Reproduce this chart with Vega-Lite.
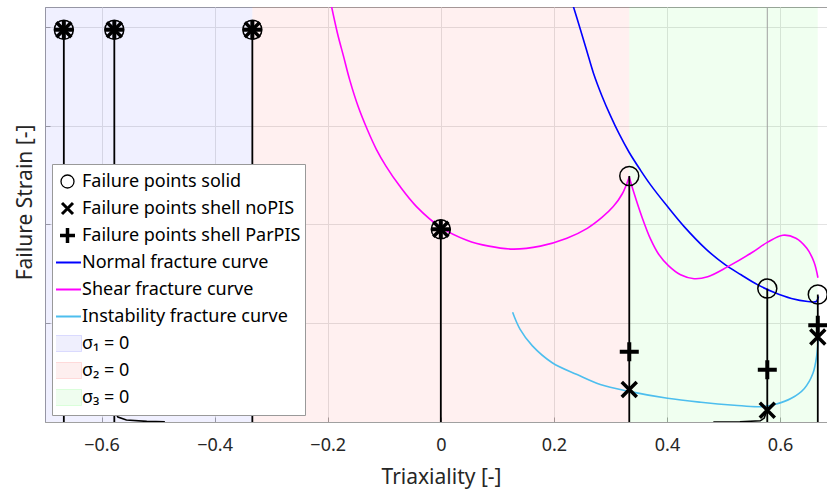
{
  "$schema": "https://vega.github.io/schema/vega-lite/v6.json",
  "width": 782,
  "height": 415,
  "autosize": {"type": "none"},
  "padding": {"left": 45, "top": 7, "right": 0, "bottom": 74},
  "background": "white",
  "config": {
    "view": {"stroke": "#a0a0a0", "strokeWidth": 1},
    "axis": {"grid": true, "gridColor": "#e3e3e3", "domainColor": "#a0a0a0", "tickColor": "#a0a0a0", "tickSize": -5,
      "labelFont": "Noto Sans", "labelFontSize": 18, "labelColor": "#262626",
      "titleFont": "Noto Sans", "titleFontSize": 21, "titleFontWeight": "normal", "titleColor": "#262626"},
    "axisX": {"tickCount": 7, "labelPadding": 19, "labelFlush": false, "labelOverlap": false,
      "titleX": 396, "titleY": 55, "titleBaseline": "middle", "titleAlign": "center"},
    "axisY": {"tickCount": 5, "labels": false,
      "titleX": -20, "titleY": 195, "titleAngle": -90, "titleBaseline": "middle", "titleAlign": "center"}
  },
  "data": {"values": [
    {"k": "region", "s": "σ₁ = 0", "x": -0.75, "x2": -0.3333},
    {"k": "region", "s": "σ₂ = 0", "x": -0.3333, "x2": 0.3333},
    {"k": "region", "s": "σ₃ = 0", "x": 0.3333, "x2": 0.6667},

    {"k": "curve", "s": "Normal fracture curve", "p": "a", "x": 0.232, "y": 4.25},
    {"k": "curve", "s": "Normal fracture curve", "p": "a", "x": 0.247, "y": 3.97},
    {"k": "curve", "s": "Normal fracture curve", "p": "a", "x": 0.259, "y": 3.74},
    {"k": "curve", "s": "Normal fracture curve", "p": "a", "x": 0.270, "y": 3.53},
    {"k": "curve", "s": "Normal fracture curve", "p": "a", "x": 0.285, "y": 3.30},
    {"k": "curve", "s": "Normal fracture curve", "p": "a", "x": 0.300, "y": 3.10},
    {"k": "curve", "s": "Normal fracture curve", "p": "a", "x": 0.315, "y": 2.92},
    {"k": "curve", "s": "Normal fracture curve", "p": "a", "x": 0.333, "y": 2.73},
    {"k": "curve", "s": "Normal fracture curve", "p": "a", "x": 0.353, "y": 2.55},
    {"k": "curve", "s": "Normal fracture curve", "p": "a", "x": 0.371, "y": 2.40},
    {"k": "curve", "s": "Normal fracture curve", "p": "a", "x": 0.401, "y": 2.18},
    {"k": "curve", "s": "Normal fracture curve", "p": "a", "x": 0.430, "y": 1.98},
    {"k": "curve", "s": "Normal fracture curve", "p": "a", "x": 0.469, "y": 1.75},
    {"k": "curve", "s": "Normal fracture curve", "p": "a", "x": 0.501, "y": 1.60},
    {"k": "curve", "s": "Normal fracture curve", "p": "a", "x": 0.531, "y": 1.49},
    {"k": "curve", "s": "Normal fracture curve", "p": "a", "x": 0.560, "y": 1.39},
    {"k": "curve", "s": "Normal fracture curve", "p": "a", "x": 0.590, "y": 1.31},
    {"k": "curve", "s": "Normal fracture curve", "p": "a", "x": 0.620, "y": 1.25},
    {"k": "curve", "s": "Normal fracture curve", "p": "a", "x": 0.649, "y": 1.22},
    {"k": "curve", "s": "Normal fracture curve", "p": "a", "x": 0.664, "y": 1.22},
    {"k": "curve", "s": "Normal fracture curve", "p": "a", "x": 0.668, "y": 1.27},

    {"k": "curve", "s": "Shear fracture curve", "p": "a", "x": -0.196, "y": 4.28},
    {"k": "curve", "s": "Shear fracture curve", "p": "a", "x": -0.183, "y": 3.94},
    {"k": "curve", "s": "Shear fracture curve", "p": "a", "x": -0.172, "y": 3.70},
    {"k": "curve", "s": "Shear fracture curve", "p": "a", "x": -0.161, "y": 3.46},
    {"k": "curve", "s": "Shear fracture curve", "p": "a", "x": -0.146, "y": 3.19},
    {"k": "curve", "s": "Shear fracture curve", "p": "a", "x": -0.130, "y": 2.96},
    {"k": "curve", "s": "Shear fracture curve", "p": "a", "x": -0.114, "y": 2.76},
    {"k": "curve", "s": "Shear fracture curve", "p": "a", "x": -0.097, "y": 2.59},
    {"k": "curve", "s": "Shear fracture curve", "p": "a", "x": -0.073, "y": 2.39},
    {"k": "curve", "s": "Shear fracture curve", "p": "a", "x": -0.043, "y": 2.18},
    {"k": "curve", "s": "Shear fracture curve", "p": "a", "x": 0.0, "y": 1.97},
    {"k": "curve", "s": "Shear fracture curve", "p": "a", "x": 0.046, "y": 1.84},
    {"k": "curve", "s": "Shear fracture curve", "p": "a", "x": 0.085, "y": 1.78},
    {"k": "curve", "s": "Shear fracture curve", "p": "a", "x": 0.128, "y": 1.75},
    {"k": "curve", "s": "Shear fracture curve", "p": "a", "x": 0.176, "y": 1.78},
    {"k": "curve", "s": "Shear fracture curve", "p": "a", "x": 0.223, "y": 1.86},
    {"k": "curve", "s": "Shear fracture curve", "p": "a", "x": 0.259, "y": 1.96},
    {"k": "curve", "s": "Shear fracture curve", "p": "a", "x": 0.285, "y": 2.07},
    {"k": "curve", "s": "Shear fracture curve", "p": "a", "x": 0.305, "y": 2.18},
    {"k": "curve", "s": "Shear fracture curve", "p": "a", "x": 0.321, "y": 2.31},
    {"k": "curve", "s": "Shear fracture curve", "p": "a", "x": 0.3333, "y": 2.48},
    {"k": "curve", "s": "Shear fracture curve", "p": "b", "x": 0.3333, "y": 2.48},
    {"k": "curve", "s": "Shear fracture curve", "p": "b", "x": 0.341, "y": 2.33},
    {"k": "curve", "s": "Shear fracture curve", "p": "b", "x": 0.356, "y": 2.07},
    {"k": "curve", "s": "Shear fracture curve", "p": "b", "x": 0.371, "y": 1.85},
    {"k": "curve", "s": "Shear fracture curve", "p": "b", "x": 0.385, "y": 1.70},
    {"k": "curve", "s": "Shear fracture curve", "p": "b", "x": 0.403, "y": 1.58},
    {"k": "curve", "s": "Shear fracture curve", "p": "b", "x": 0.424, "y": 1.49},
    {"k": "curve", "s": "Shear fracture curve", "p": "b", "x": 0.448, "y": 1.45},
    {"k": "curve", "s": "Shear fracture curve", "p": "b", "x": 0.472, "y": 1.47},
    {"k": "curve", "s": "Shear fracture curve", "p": "b", "x": 0.507, "y": 1.57},
    {"k": "curve", "s": "Shear fracture curve", "p": "b", "x": 0.549, "y": 1.71},
    {"k": "curve", "s": "Shear fracture curve", "p": "b", "x": 0.578, "y": 1.82},
    {"k": "curve", "s": "Shear fracture curve", "p": "b", "x": 0.605, "y": 1.89},
    {"k": "curve", "s": "Shear fracture curve", "p": "b", "x": 0.628, "y": 1.86},
    {"k": "curve", "s": "Shear fracture curve", "p": "b", "x": 0.647, "y": 1.76},
    {"k": "curve", "s": "Shear fracture curve", "p": "b", "x": 0.660, "y": 1.62},
    {"k": "curve", "s": "Shear fracture curve", "p": "b", "x": 0.667, "y": 1.46},

    {"k": "curve", "s": "Instability fracture curve", "p": "a", "x": 0.127, "y": 1.11},
    {"k": "curve", "s": "Instability fracture curve", "p": "a", "x": 0.140, "y": 0.94},
    {"k": "curve", "s": "Instability fracture curve", "p": "a", "x": 0.162, "y": 0.77},
    {"k": "curve", "s": "Instability fracture curve", "p": "a", "x": 0.197, "y": 0.60},
    {"k": "curve", "s": "Instability fracture curve", "p": "a", "x": 0.241, "y": 0.48},
    {"k": "curve", "s": "Instability fracture curve", "p": "a", "x": 0.282, "y": 0.38},
    {"k": "curve", "s": "Instability fracture curve", "p": "a", "x": 0.333, "y": 0.31},
    {"k": "curve", "s": "Instability fracture curve", "p": "a", "x": 0.401, "y": 0.24},
    {"k": "curve", "s": "Instability fracture curve", "p": "a", "x": 0.460, "y": 0.20},
    {"k": "curve", "s": "Instability fracture curve", "p": "a", "x": 0.519, "y": 0.17},
    {"k": "curve", "s": "Instability fracture curve", "p": "a", "x": 0.565, "y": 0.155},
    {"k": "curve", "s": "Instability fracture curve", "p": "a", "x": 0.592, "y": 0.18},
    {"k": "curve", "s": "Instability fracture curve", "p": "a", "x": 0.620, "y": 0.24},
    {"k": "curve", "s": "Instability fracture curve", "p": "a", "x": 0.643, "y": 0.34},
    {"k": "curve", "s": "Instability fracture curve", "p": "a", "x": 0.658, "y": 0.49},
    {"k": "curve", "s": "Instability fracture curve", "p": "a", "x": 0.665, "y": 0.68},
    {"k": "curve", "s": "Instability fracture curve", "p": "a", "x": 0.668, "y": 0.90},

    {"k": "black", "g": "a", "x": -0.582, "y": 0.6},
    {"k": "black", "g": "a", "x": -0.580, "y": 0.14},
    {"k": "black", "g": "a", "x": -0.571, "y": 0.05},
    {"k": "black", "g": "a", "x": -0.556, "y": 0.02},
    {"k": "black", "g": "a", "x": -0.52, "y": 0.006},
    {"k": "black", "g": "a", "x": -0.488, "y": 0.002},
    {"k": "black", "g": "b", "x": 0.482, "y": 0.0},
    {"k": "black", "g": "b", "x": 0.529, "y": 0.003},
    {"k": "black", "g": "b", "x": 0.565, "y": 0.012},
    {"k": "black", "g": "b", "x": 0.572, "y": 0.04},
    {"k": "black", "g": "b", "x": 0.575, "y": 0.09},
    {"k": "black", "g": "b", "x": 0.577, "y": 0.14},

    {"k": "stem", "x": -0.6667, "y": 3.97},
    {"k": "stem", "x": -0.5774, "y": 3.97},
    {"k": "stem", "x": -0.3333, "y": 3.97},
    {"k": "stem", "x": 0.0, "y": 1.95},
    {"k": "stem", "x": 0.3333, "y": 2.49},
    {"k": "stem", "x": 0.5774, "y": 1.35},
    {"k": "stem", "x": 0.6667, "y": 1.29},

    {"k": "pt", "s": "Failure points solid", "x": -0.6667, "y": 3.97},
    {"k": "pt", "s": "Failure points solid", "x": -0.5774, "y": 3.97},
    {"k": "pt", "s": "Failure points solid", "x": -0.3333, "y": 3.97},
    {"k": "pt", "s": "Failure points solid", "x": 0.0, "y": 1.95},
    {"k": "pt", "s": "Failure points solid", "x": 0.3333, "y": 2.49},
    {"k": "pt", "s": "Failure points solid", "x": 0.5774, "y": 1.35},
    {"k": "pt", "s": "Failure points solid", "x": 0.6667, "y": 1.29},
    {"k": "pt", "s": "Failure points shell noPIS", "x": -0.6667, "y": 3.97},
    {"k": "pt", "s": "Failure points shell noPIS", "x": -0.5774, "y": 3.97},
    {"k": "pt", "s": "Failure points shell noPIS", "x": -0.3333, "y": 3.97},
    {"k": "pt", "s": "Failure points shell noPIS", "x": 0.0, "y": 1.95},
    {"k": "pt", "s": "Failure points shell noPIS", "x": 0.3333, "y": 0.33},
    {"k": "pt", "s": "Failure points shell noPIS", "x": 0.5774, "y": 0.12},
    {"k": "pt", "s": "Failure points shell noPIS", "x": 0.6667, "y": 0.86},
    {"k": "pt", "s": "Failure points shell ParPIS", "x": -0.6667, "y": 3.97},
    {"k": "pt", "s": "Failure points shell ParPIS", "x": -0.5774, "y": 3.97},
    {"k": "pt", "s": "Failure points shell ParPIS", "x": -0.3333, "y": 3.97},
    {"k": "pt", "s": "Failure points shell ParPIS", "x": 0.0, "y": 1.95},
    {"k": "pt", "s": "Failure points shell ParPIS", "x": 0.3333, "y": 0.71},
    {"k": "pt", "s": "Failure points shell ParPIS", "x": 0.5774, "y": 0.53},
    {"k": "pt", "s": "Failure points shell ParPIS", "x": 0.6667, "y": 0.98}
  ]},
  "layer": [
    {
      "transform": [{"filter": "datum.k == 'region'"}],
      "mark": {"type": "rect", "fillOpacity": 0.06, "clip": true},
      "encoding": {
        "x": {"field": "x", "type": "quantitative", "title": "Triaxiality [-]", "axis": {"format": "~g"},
          "scale": {"domain": [-0.7, 0.683], "nice": false, "zero": false}},
        "x2": {"field": "x2"},
        "fill": {"field": "s", "type": "nominal",
          "scale": {"domain": ["σ₁ = 0", "σ₂ = 0", "σ₃ = 0"], "range": ["#0000ff", "#ff0000", "#00ff00"]},
          "legend": null}
      }
    },
    {
      "data": {"values": [{"x": 0.5774}]},
      "mark": {"type": "rule", "color": "#a0a0a0", "strokeWidth": 1},
      "encoding": {
        "x": {"field": "x", "type": "quantitative", "title": "Triaxiality [-]", "axis": {"format": "~g"}, "scale": {"domain": [-0.7, 0.683], "nice": false, "zero": false}}
      }
    },
    {
      "transform": [{"filter": "datum.k == 'curve'"}],
      "mark": {"type": "line", "strokeWidth": 1.6, "clip": true, "interpolate": "catmull-rom"},
      "encoding": {
        "x": {"field": "x", "type": "quantitative", "title": "Triaxiality [-]", "axis": {"format": "~g"}, "scale": {"domain": [-0.7, 0.683], "nice": false, "zero": false}},
        "y": {"field": "y", "type": "quantitative", "title": "Failure Strain [-]", "scale": {"domain": [0, 4.2], "nice": false, "zero": false}},
        "detail": {"field": "p", "type": "nominal"},
        "color": {"field": "s", "type": "nominal",
          "scale": {"domain": ["Failure points solid", "Failure points shell noPIS", "Failure points shell ParPIS", "Normal fracture curve", "Shear fracture curve", "Instability fracture curve", "σ₁ = 0", "σ₂ = 0", "σ₃ = 0"],
            "range": ["#000000", "#000000", "#000000", "#0000ff", "#ff00ff", "#4dbeee", "#0000ff", "#ff0000", "#00ff00"]},
          "legend": {"title": null, "orient": "bottom-left", "offset": 7, "fillColor": "white", "strokeColor": "#999999",
            "padding": 4, "labelFont": "Noto Sans", "labelFontSize": 18, "labelColor": "black", "labelLimit": 400,
            "clipHeight": 27, "rowPadding": 0, "symbolOffset": -3, "labelOffset": 0, "symbolSize": 784,
            "encode": {"symbols": {"update": {
              "shape": {"signal": "['circle','M-1,-1L1,1M1,-1L-1,1','M-1,0H1M0,-1V1','M-1,0H1','M-1,0H1','M-1,0H1','M-1,-0.57H1V0.57H-1Z','M-1,-0.57H1V0.57H-1Z','M-1,-0.57H1V0.57H-1Z'][indexof(['Failure points solid','Failure points shell noPIS','Failure points shell ParPIS','Normal fracture curve','Shear fracture curve','Instability fracture curve','σ₁ = 0','σ₂ = 0','σ₃ = 0'], isString(datum) ? datum : datum.value)]"},
              "size": {"signal": "[169,121,225,729,729,729,784,784,784][indexof(['Failure points solid','Failure points shell noPIS','Failure points shell ParPIS','Normal fracture curve','Shear fracture curve','Instability fracture curve','σ₁ = 0','σ₂ = 0','σ₃ = 0'], isString(datum) ? datum : datum.value)]"},
              "strokeWidth": {"signal": "[1.3,3,3.5,2,2,2,1,1,1][indexof(['Failure points solid','Failure points shell noPIS','Failure points shell ParPIS','Normal fracture curve','Shear fracture curve','Instability fracture curve','σ₁ = 0','σ₂ = 0','σ₃ = 0'], isString(datum) ? datum : datum.value)]"},
              "strokeOpacity": {"signal": "[1,1,1,1,1,1,0.12,0.12,0.12][indexof(['Failure points solid','Failure points shell noPIS','Failure points shell ParPIS','Normal fracture curve','Shear fracture curve','Instability fracture curve','σ₁ = 0','σ₂ = 0','σ₃ = 0'], isString(datum) ? datum : datum.value)]"},
              "fill": {"signal": "['transparent','transparent','transparent','transparent','transparent','transparent','#efeffd','#fdefef','#effdef'][indexof(['Failure points solid','Failure points shell noPIS','Failure points shell ParPIS','Normal fracture curve','Shear fracture curve','Instability fracture curve','σ₁ = 0','σ₂ = 0','σ₃ = 0'], isString(datum) ? datum : datum.value)]"},
              "opacity": {"value": 1},
              "fillOpacity": {"value": 1}
            }}}}}
      }
    },
    {
      "transform": [{"filter": "datum.k == 'black'"}],
      "mark": {"type": "line", "strokeWidth": 1.6, "color": "black", "clip": true},
      "encoding": {
        "x": {"field": "x", "type": "quantitative", "title": "Triaxiality [-]", "axis": {"format": "~g"}, "scale": {"domain": [-0.7, 0.683], "nice": false, "zero": false}},
        "y": {"field": "y", "type": "quantitative", "title": "Failure Strain [-]", "scale": {"domain": [0, 4.2], "nice": false, "zero": false}},
        "detail": {"field": "g", "type": "nominal"}
      }
    },
    {
      "transform": [{"filter": "datum.k == 'stem'"}],
      "mark": {"type": "rule", "strokeWidth": 1.8, "color": "black"},
      "encoding": {
        "x": {"field": "x", "type": "quantitative", "title": "Triaxiality [-]", "axis": {"format": "~g"}, "scale": {"domain": [-0.7, 0.683], "nice": false, "zero": false}},
        "y": {"field": "y", "type": "quantitative", "title": "Failure Strain [-]", "scale": {"domain": [0, 4.2], "nice": false, "zero": false}},
        "y2": {"datum": 0}
      }
    },
    {
      "transform": [{"filter": "datum.s == 'Failure points solid'"}],
      "mark": {"type": "point", "shape": "circle", "size": 361, "strokeWidth": 1.5, "filled": false, "opacity": 1},
      "encoding": {
        "x": {"field": "x", "type": "quantitative", "title": "Triaxiality [-]", "axis": {"format": "~g"}, "scale": {"domain": [-0.7, 0.683], "nice": false, "zero": false}},
        "y": {"field": "y", "type": "quantitative", "title": "Failure Strain [-]", "scale": {"domain": [0, 4.2], "nice": false, "zero": false}},
        "color": {"field": "s", "type": "nominal",
          "scale": {"domain": ["Failure points solid", "Failure points shell noPIS", "Failure points shell ParPIS", "Normal fracture curve", "Shear fracture curve", "Instability fracture curve", "σ₁ = 0", "σ₂ = 0", "σ₃ = 0"],
            "range": ["#000000", "#000000", "#000000", "#0000ff", "#ff00ff", "#4dbeee", "#0000ff", "#ff0000", "#00ff00"]},
          "legend": null}
      }
    },
    {
      "transform": [{"filter": "datum.s == 'Failure points shell noPIS'"}],
      "mark": {"type": "point", "shape": "M-1,-1L1,1M1,-1L-1,1", "size": 225, "strokeWidth": 3.5, "filled": false, "opacity": 1},
      "encoding": {
        "x": {"field": "x", "type": "quantitative", "title": "Triaxiality [-]", "axis": {"format": "~g"}, "scale": {"domain": [-0.7, 0.683], "nice": false, "zero": false}},
        "y": {"field": "y", "type": "quantitative", "title": "Failure Strain [-]", "scale": {"domain": [0, 4.2], "nice": false, "zero": false}},
        "color": {"field": "s", "type": "nominal",
          "scale": {"domain": ["Failure points solid", "Failure points shell noPIS", "Failure points shell ParPIS", "Normal fracture curve", "Shear fracture curve", "Instability fracture curve", "σ₁ = 0", "σ₂ = 0", "σ₃ = 0"],
            "range": ["#000000", "#000000", "#000000", "#0000ff", "#ff00ff", "#4dbeee", "#0000ff", "#ff0000", "#00ff00"]},
          "legend": null}
      }
    },
    {
      "transform": [{"filter": "datum.s == 'Failure points shell ParPIS'"}],
      "mark": {"type": "point", "shape": "M-1,0H1M0,-1V1", "size": 361, "strokeWidth": 4, "filled": false, "opacity": 1},
      "encoding": {
        "x": {"field": "x", "type": "quantitative", "title": "Triaxiality [-]", "axis": {"format": "~g"}, "scale": {"domain": [-0.7, 0.683], "nice": false, "zero": false}},
        "y": {"field": "y", "type": "quantitative", "title": "Failure Strain [-]", "scale": {"domain": [0, 4.2], "nice": false, "zero": false}},
        "color": {"field": "s", "type": "nominal",
          "scale": {"domain": ["Failure points solid", "Failure points shell noPIS", "Failure points shell ParPIS", "Normal fracture curve", "Shear fracture curve", "Instability fracture curve", "σ₁ = 0", "σ₂ = 0", "σ₃ = 0"],
            "range": ["#000000", "#000000", "#000000", "#0000ff", "#ff00ff", "#4dbeee", "#0000ff", "#ff0000", "#00ff00"]},
          "legend": null}
      }
    }
  ]
}
